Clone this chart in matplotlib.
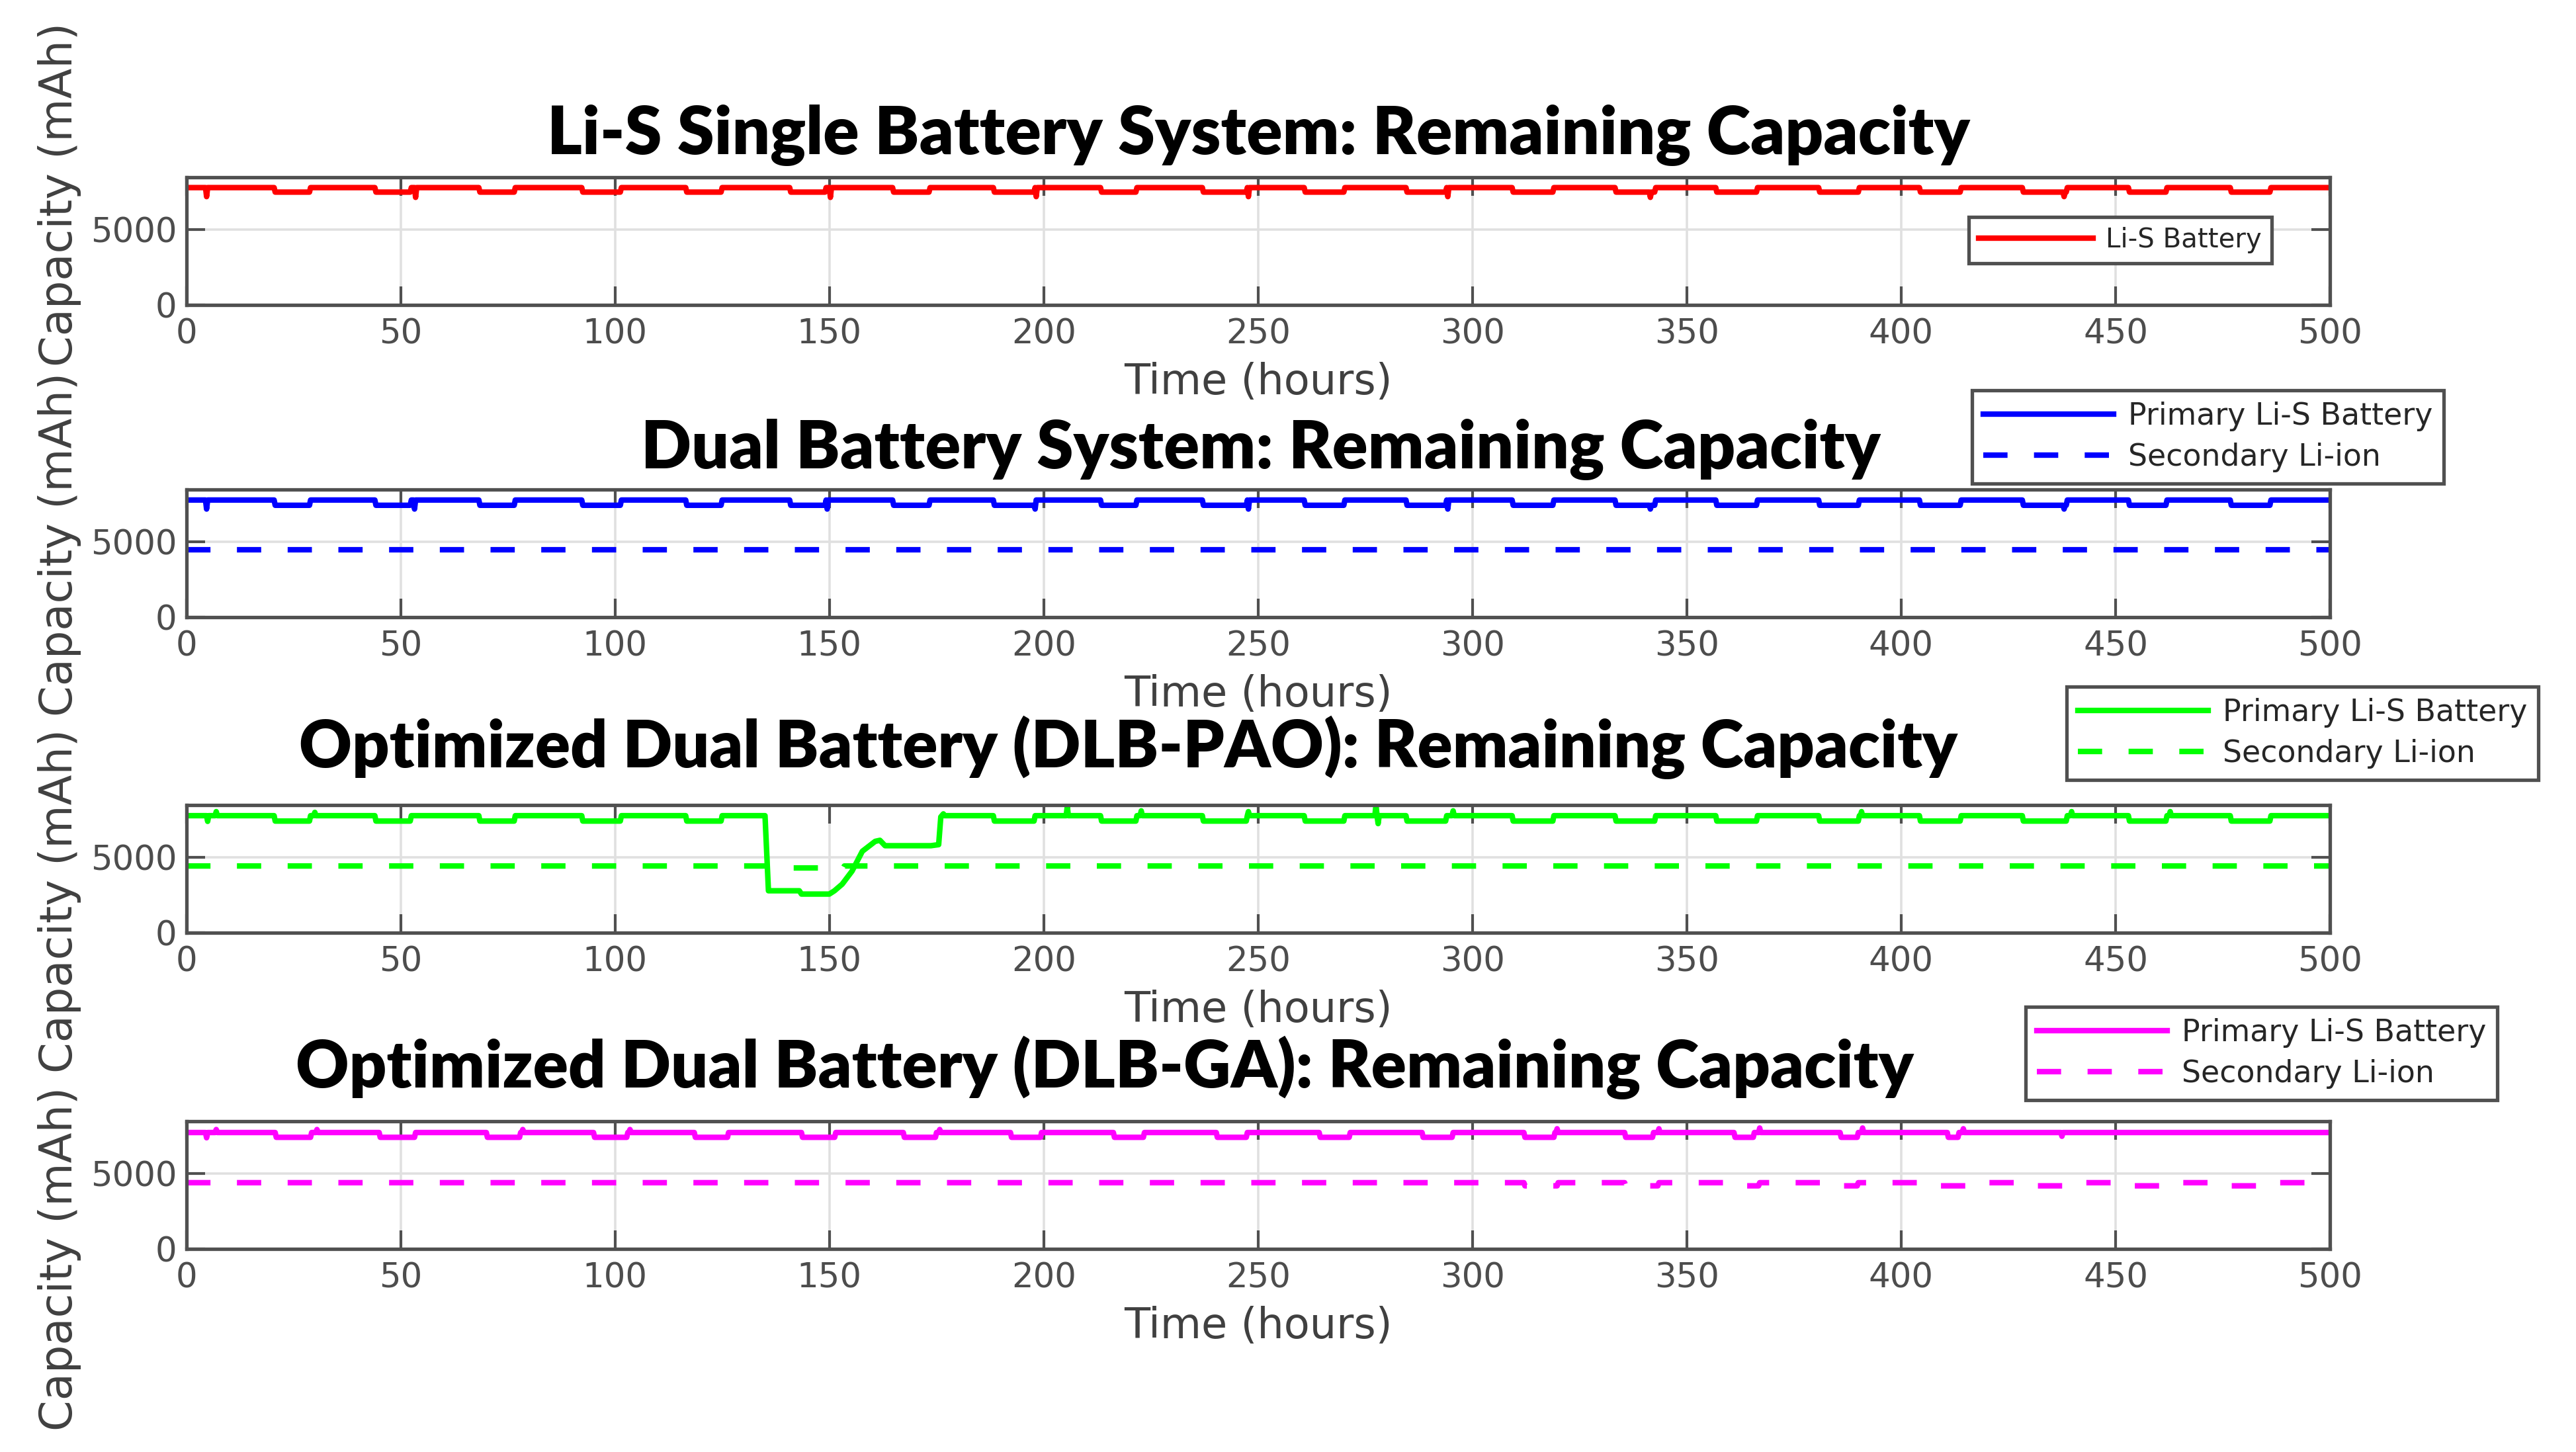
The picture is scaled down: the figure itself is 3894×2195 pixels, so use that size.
import numpy as np
import matplotlib
matplotlib.use("Agg")
import matplotlib.pyplot as plt

# ------------------------------------------------------------------ data
x_ticks = [0, 50, 100, 150, 200, 250, 300, 350, 400, 450, 500]
y_ticks = [0, 5000]
x_lim = (0, 500)
y_lim = (0, 8500)

titles = [
    "Li-S Single Battery System: Remaining Capacity",
    "Dual Battery System: Remaining Capacity",
    "Optimized Dual Battery (DLB-PAO): Remaining Capacity",
    "Optimized Dual Battery (DLB-GA): Remaining Capacity",
]
y_label = "Capacity (mAh)"
x_label = "Time (hours)"
legend_labels = [["Li-S Battery"],
                 ["Primary Li-S Battery", "Secondary Li-ion"],
                 ["Primary Li-S Battery", "Secondary Li-ion"],
                 ["Primary Li-S Battery", "Secondary Li-ion"]]

# daily low-load windows (hours)
low_start = [20.7, 44.2, 68.4, 92.5, 116.7, 140.9, 165.0, 188.5, 213.4, 237.2,
             261.0, 284.7, 309.5, 333.3, 357.0, 380.8, 404.5, 428.3, 453.1, 476.9]
low_end = [29.0, 52.5, 76.7, 101.5, 125.0, 149.2, 173.3, 198.0, 221.7, 247.5,
           270.2, 294.0, 318.8, 342.6, 366.3, 390.1, 413.8, 438.6, 462.0, 486.2]

# Li-S single battery (red)
lis_high, lis_low = 7800, 7500
lis_spikes = [(4.8, 7200), (53.5, 7150), (150.3, 7150), (198.3, 7200),
              (247.8, 7200), (294.3, 7200), (341.5, 7150), (438.0, 7200)]

# Dual battery (blue)
dual_high, dual_low = 7800, 7450
dual_spikes = [(4.8, 7200), (53.2, 7200), (149.6, 7200), (198.0, 7200),
               (247.8, 7200), (294.3, 7200), (341.5, 7200), (438.0, 7200)]
dual_secondary = 4490

# DLB-PAO (green)
pao_high, pao_low = 7780, 7420
pao_spikes = [(4.9, 7400), (6.9, 8050), (30.0, 8000), (205.4, 8400), (222.8, 8100),
              (247.7, 8050), (277.6, 8500), (278.0, 7250), (295.6, 8100),
              (390.8, 8050), (439.7, 8050), (462.7, 8050)]
pao_dip_t = [135.0, 135.8, 143.0, 143.5, 150.0, 151.2, 153.0, 155.3, 157.7,
             160.7, 161.8, 163.0, 173.7, 175.5, 176.0, 176.6]
pao_dip_v = [7780, 2780, 2780, 2560, 2560, 2780, 3220, 4090, 5410,
             6070, 6140, 5780, 5780, 5850, 7700, 7900]
pao_secondary = 4430
pao_sec_low = 4300
pao_sec_low_windows = [(137.5, 153.5)]

# DLB-GA (magenta)
ga_high, ga_low = 7750, 7430
ga_low_start = [20.8, 45.1, 70.1, 95.1, 118.75, 143.75, 167.4, 192.4, 216.5, 240.5,
                264.5, 288.5, 312.2, 335.7, 361.2, 386.0, 410.8]
ga_low_end = [29.2, 53.5, 77.8, 102.8, 126.4, 151.4, 175.0, 199.3, 223.5, 247.5,
              271.5, 295.5, 319.2, 342.1, 365.6, 389.8, 413.4]
ga_spikes = [(4.7, 7400), (6.9, 7950), (30.5, 7950), (78.6, 7950), (103.5, 7950),
             (175.7, 7950), (319.8, 8000), (343.4, 8000), (366.9, 8050),
             (391.1, 8050), (414.6, 8000), (437.5, 7500)]
ga_secondary = 4410
ga_sec_low = 4200
ga_sec_low_windows = [(312.2, 319.8), (335.7, 343.4), (361.2, 366.9), (386.0, 390.0),
                      (408.0, 418.0), (431.0, 441.0), (454.0, 464.0), (477.0, 487.0)]

colors = ["#ff0000", "#0000ff", "#00ff00", "#ff00ff"]

# ------------------------------------------------------------------ build traces
t = np.arange(0.0, 500.0001, 0.25)


def step_series(high, low, starts, ends, spikes):
    v = np.full(t.shape, float(high))
    for s, e in zip(starts, ends):
        v[(t >= s) & (t < e)] = low
    for ts, vs in spikes:
        v[np.argmin(np.abs(t - ts))] = vs
    return v


red_v = step_series(lis_high, lis_low, low_start, low_end, lis_spikes)
blue_v = step_series(dual_high, dual_low, low_start, low_end, dual_spikes)
blue_s = np.full(t.shape, float(dual_secondary))

g_base = step_series(pao_high, pao_low, low_start, low_end, pao_spikes)
m1 = t < pao_dip_t[0]
m2 = t > pao_dip_t[-1]
green_t = np.concatenate([t[m1], pao_dip_t, t[m2]])
green_v = np.concatenate([g_base[m1], pao_dip_v, g_base[m2]])
green_s = step_series(pao_secondary, pao_sec_low,
                      [w[0] for w in pao_sec_low_windows],
                      [w[1] for w in pao_sec_low_windows], [])

mag_v = step_series(ga_high, ga_low, ga_low_start, ga_low_end, ga_spikes)
mag_s = step_series(ga_secondary, ga_sec_low,
                    [w[0] for w in ga_sec_low_windows],
                    [w[1] for w in ga_sec_low_windows], [])

# ------------------------------------------------------------------ figure
W, H = 3894, 2195
DPI = 200
fig = plt.figure(figsize=(W / DPI, H / DPI), dpi=DPI)
fig.patch.set_facecolor("white")

ax_left = 281.5 / W
ax_width = (3522 - 281.5) / W
ax_tops_px = [267.7, 740.0, 1216.7, 1695.0]
ax_h_px = 193.0

LW = 3.0
DASH = (0, (4.4, 4.8))
frame_col = "#505050"
tick_col = "#4d4d4d"

axes = []
for top in ax_tops_px:
    b = 1 - (top + ax_h_px) / H
    ax = fig.add_axes([ax_left, b, ax_width, ax_h_px / H])
    axes.append(ax)

axes[0].plot(t, red_v, color=colors[0], lw=LW, label=legend_labels[0][0])
axes[1].plot(t, blue_v, color=colors[1], lw=LW, label=legend_labels[1][0])
axes[1].plot(t, blue_s, color=colors[1], lw=LW, ls=DASH, label=legend_labels[1][1])
axes[2].plot(green_t, green_v, color=colors[2], lw=LW, label=legend_labels[2][0])
axes[2].plot(t, green_s, color=colors[2], lw=LW, ls=DASH, label=legend_labels[2][1])
axes[3].plot(t, mag_v, color=colors[3], lw=LW, label=legend_labels[3][0])
axes[3].plot(t, mag_s, color=colors[3], lw=LW, ls=DASH, label=legend_labels[3][1])

for ax in axes:
    ax.set_xlim(*x_lim)
    ax.set_ylim(*y_lim)
    ax.set_xticks(x_ticks)
    ax.set_yticks(y_ticks)
    ax.grid(True, color="#e0e0e0", linewidth=1.3)
    ax.set_axisbelow(True)
    ax.tick_params(axis="both", direction="in", length=10, width=1.5,
                   color=frame_col, top=True, right=True,
                   labelsize=18.5, labelcolor=tick_col)
    ax.tick_params(axis="x", pad=7)
    ax.tick_params(axis="y", pad=5)
    for sp in ax.spines.values():
        sp.set_linewidth(1.9)
        sp.set_color(frame_col)
    ax.set_xlabel(x_label, fontsize=23, color="#404040")
    ax.xaxis.set_label_coords(0.5, -117.0 / ax_h_px)
    ax.xaxis.label.set_va("center")

# titles
title_centers_px = [1902, 1906, 1706, 1670]
title_baselines_px = [233, 708, 1160, 1644]
title_widths_px = [2153, 1875, 2508, 2446]
title_objs = []
for s, cx, by in zip(titles, title_centers_px, title_baselines_px):
    tt = fig.text(cx / W, 1 - by / H, s, ha="center", va="baseline",
                  fontsize=28, fontweight="heavy", family=["Lato", "DejaVu Sans"],
                  color="black")
    title_objs.append(tt)

# y labels (stacked as in the source)
ylab_centers_px = [294, 823, 1362, 1903]
ylab_objs = []
for cy in ylab_centers_px:
    yt = fig.text(90 / W, 1 - cy / H, y_label, rotation=90, ha="center", va="center",
                  fontsize=24, color="#404040")
    ylab_objs.append(yt)

# legends
leg_specs = [  # (x0 px, top px, fontsize)
    (2976, 328, 14.5),
    (2981, 590, 16.5),
    (3124, 1038, 16.5),
    (3062, 1522, 16.5),
]
for ax, (x0, top, fs) in zip(axes, leg_specs):
    leg = ax.legend(loc="upper left", bbox_to_anchor=(x0 / W, 1 - top / H),
                    bbox_transform=fig.transFigure, borderaxespad=0,
                    fontsize=fs, frameon=True, fancybox=False, framealpha=1,
                    edgecolor=frame_col, borderpad=0.37, labelspacing=0.37,
                    handlelength=4.3, handletextpad=0.48)
    leg.get_frame().set_linewidth(1.9)
    for txt in leg.get_texts():
        txt.set_color("#262626")

# fit text widths to the reference
fig.canvas.draw()
r = fig.canvas.get_renderer()
for tt, wpx in zip(title_objs, title_widths_px):
    w = tt.get_window_extent(r).width
    tt.set_fontsize(tt.get_fontsize() * wpx / w)
for yt in ylab_objs:
    ext = yt.get_window_extent(r)
    yt.set_fontsize(yt.get_fontsize() * 519.0 / ext.height)

fig.savefig("out.png", dpi=DPI, facecolor="white")
